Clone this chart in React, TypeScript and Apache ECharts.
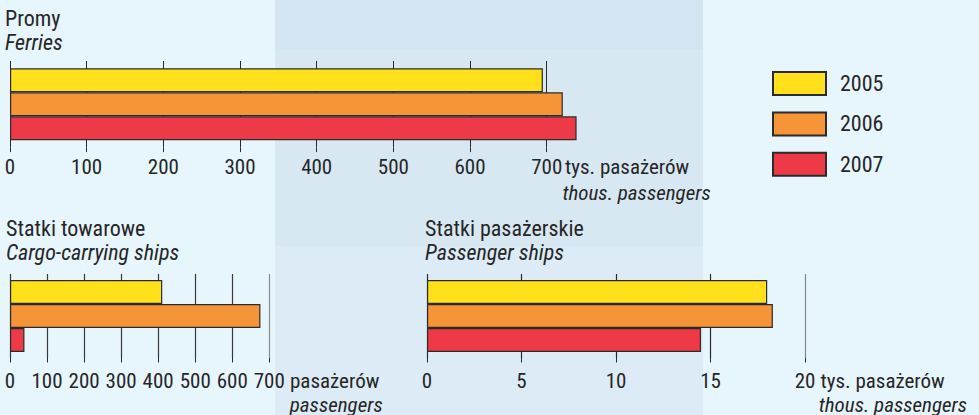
import React, { useEffect, useRef } from "react";
import * as echarts from "echarts";

const years = ["2005", "2006", "2007"];
const ferries = [695, 721, 739]; // tys. pasażerów
const cargo = [411, 676, 39]; // pasażerów
const passengerShips = [18.0, 18.3, 14.5]; // tys. pasażerów
const yearColors = ["#FFE01A", "#F59538", "#EE3A47"];
const ferriesAxis = { max: 700, interval: 100 };
const cargoAxis = { max: 700, interval: 100 };
const passengerAxis = { max: 20, interval: 5 };

const FONT = "'Roboto Condensed', 'Liberation Sans', Arial, sans-serif";
const TXT = "#262626";
const FS = 21;
const TITLE_FS = 22;

export default function App() {
  const ref = useRef<HTMLDivElement>(null);
  useEffect(() => {
    document.body.style.margin = "0";
    const chart = echarts.init(ref.current!, null, { renderer: "svg" });
    const grids = [
      { left: 10, top: 61, width: 536.7, height: 86.6 },
      { left: 10, top: 274, width: 259.3, height: 84 },
      { left: 427, top: 274, width: 378, height: 84 },
    ];
    const axes = [ferriesAxis, cargoAxis, passengerAxis];
    const splitColors = [
      ["#2a2a2a"],
      ["#3a3a3a", "#3a3a3a", "#3a3a3a", "#3a3a3a", "#3a3a3a", "#3a3a3a", "#3a3a3a", "#8a8a8a"],
      ["#2a2a2a", "#2a2a2a", "#2a2a2a", "#2a2a2a", "#858585"],
    ];
    const margins = [9, 12.5, 12.5];
    const xAxis = axes.map((a, i) => ({
      type: "value",
      gridIndex: i,
      min: 0,
      max: a.max,
      interval: a.interval,
      axisLine: { show: false },
      axisTick: { show: true, inside: false, length: 4.5, lineStyle: { color: "#2a2a2a", width: 1 } },
      splitLine: { show: true, lineStyle: { color: splitColors[i], width: i === 0 ? 1 : 1.2 } },
      axisLabel: { fontSize: FS, fontFamily: FONT, color: TXT, margin: margins[i] },
    }));
    const yAxis = axes.map((_, i) => ({
      type: "category",
      gridIndex: i,
      data: ["x"],
      inverse: true,
      show: false,
    }));
    const datasets = [ferries, cargo, passengerShips];
    const series: any[] = [];
    datasets.forEach((d, gi) => {
      years.forEach((y, yi) => {
        series.push({
          type: "bar",
          name: y,
          xAxisIndex: gi,
          yAxisIndex: gi,
          data: [d[yi]],
          barWidth: 24,
          barGap: "0%",
          clip: false,
          itemStyle: { color: yearColors[yi], borderColor: "#2b2b2b", borderWidth: 1.2 },
        });
      });
    });
    const t = (text: string, x: number, y: number, opts: any = {}) => ({
      type: "text",
      x,
      y,
      z: 10,
      style: {
        text,
        fontSize: FS,
        fontFamily: FONT,
        fill: TXT,
        verticalAlign: "middle",
        align: "left",
        ...opts,
      },
    });
    chart.setOption({
      animation: false,
      backgroundColor: "#E7F5FD",
      grid: grids,
      xAxis,
      yAxis,
      series,
      legend: {
        data: years,
        orient: "vertical",
        left: 772,
        top: 71,
        padding: 0,
        itemWidth: 53,
        itemHeight: 23,
        itemGap: 15.4,
        icon: "rect",
        textStyle: { fontSize: 22, fontFamily: FONT, color: TXT, padding: [0, 0, 0, 9] },
        selectedMode: false,
      },
      graphic: {
        elements: [
          { type: "rect", z: -10, silent: true, shape: { x: 275, y: 0, width: 428, height: 415 }, style: { fill: "#D8E8F3" } },
          { type: "rect", z: -9, silent: true, shape: { x: 275, y: 0, width: 428, height: 49 }, style: { fill: "#D3E5F1" } },
          { type: "rect", z: -9, silent: true, shape: { x: 275, y: 246, width: 428, height: 169 }, style: { fill: "#DCEBF5" } },
          t("Promy", 5, 18, { fontSize: TITLE_FS }),
          t("Ferries", 5, 42.5, { fontSize: TITLE_FS, fontStyle: "italic" }),
          t("Statki towarowe", 6, 228, { fontSize: TITLE_FS }),
          t("Cargo-carrying ships", 6, 252, { fontSize: TITLE_FS, fontStyle: "italic" }),
          t("Statki pasażerskie", 425, 228, { fontSize: TITLE_FS }),
          t("Passenger ships", 425, 252, { fontSize: TITLE_FS, fontStyle: "italic" }),
          t("tys. pasażerów", 565, 167),
          t("thous. passengers", 710.7, 192.5, { align: "right", fontStyle: "italic" }),
          t("pasażerów", 290, 381),
          t("passengers", 382.7, 404.5, { align: "right", fontStyle: "italic" }),
          t("tys. pasażerów", 820.5, 381),
          t("thous. passengers", 967, 404.5, { align: "right", fontStyle: "italic" }),
        ],
      },
    });
    return () => chart.dispose();
  }, []);
  return <div ref={ref} style={{ width: 979, height: 415 }} />;
}
